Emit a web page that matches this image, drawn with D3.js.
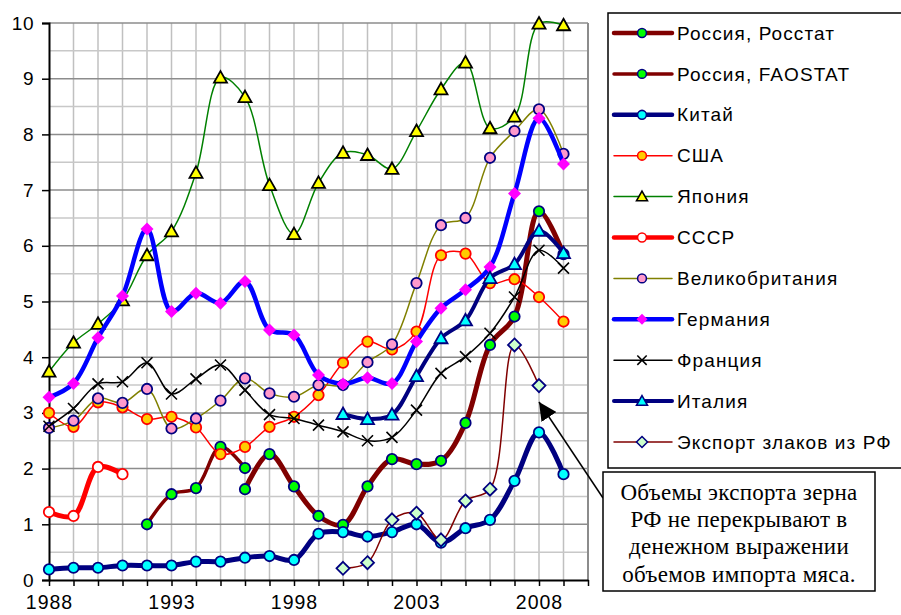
<!DOCTYPE html>
<html>
<head>
<meta charset="utf-8">
<script src="https://cdn.jsdelivr.net/npm/d3@7"></script>
<style>
  body { margin: 0; background: #fff; }
  svg { display: block; }
</style>
</head>
<body>
<script>
const years = [1988, 1989, 1990, 1991, 1992, 1993, 1994, 1995, 1996, 1997, 1998,
  1999, 2000, 2001, 2002, 2003, 2004, 2005, 2006, 2007, 2008, 2009]
const yearLabels = [1988, 1993, 1998, 2003, 2008]
const yTicks = [0, 1, 2, 3, 4, 5, 6, 7, 8, 9, 10]

const rosstat = [null, null, null, null, null, null, null, null, 1.63, 2.26, 1.68,
  1.15, 0.99, 1.68, 2.17, 2.08, 2.14, 2.82, 4.22, 4.73, 6.62, 5.85]
const faostat = [null, null, null, null, 1.0, 1.54, 1.65, 2.39, 2.01, null, null,
  null, null, null, null, null, null, null, null, null, null, null]
const china = [0.19, 0.22, 0.22, 0.26, 0.26, 0.26, 0.33, 0.33, 0.4, 0.43, 0.36,
  0.83, 0.86, 0.78, 0.86, 1.0, 0.67, 0.93, 1.08, 1.78, 2.65, 1.9]
const usa = [3.0, 2.75, 3.19, 3.1, 2.89, 2.93, 2.74, 2.26, 2.39, 2.75, 2.93,
  3.32, 3.9, 4.28, 4.14, 4.46, 5.83, 5.86, 5.33, 5.4, 5.08, 4.64]
const japan = [3.74, 4.26, 4.6, 5.02, 5.83, 6.26, 7.31, 9.02, 8.67, 7.09, 6.21,
  7.13, 7.67, 7.63, 7.38, 8.06, 8.81, 9.29, 8.11, 8.32, 9.99, 9.96]
const ussr = [1.22, 1.15, 2.03, 1.9, null, null, null, null, null, null, null,
  null, null, null, null, null, null, null, null, null, null, null]
const uk = [2.73, 2.86, 3.26, 3.18, 3.43, 2.72, 2.9, 3.22, 3.62, 3.35, 3.29,
  3.5, 3.5, 3.91, 4.23, 5.33, 6.37, 6.5, 7.58, 8.06, 8.45, 7.65]
const germany = [3.28, 3.53, 4.35, 5.1, 6.3, 4.82, 5.15, 4.97, 5.36, 4.49, 4.4,
  3.68, 3.52, 3.63, 3.53, 4.28, 4.88, 5.21, 5.62, 6.94, 8.29, 7.47]
const france = [2.76, 3.08, 3.52, 3.56, 3.9, 3.34, 3.61, 3.86, 3.41, 2.97, 2.9,
  2.78, 2.66, 2.5, 2.56, 3.05, 3.71, 4.01, 4.43, 5.08, 5.92, 5.6]
const italy = [null, null, null, null, null, null, null, null, null, null, null,
  null, 2.98, 2.89, 2.97, 3.66, 4.34, 4.66, 5.42, 5.67, 6.27, 5.87]
const exportRF = [null, null, null, null, null, null, null, null, null, null, null,
  null, 0.21, 0.31, 1.08, 1.2, 0.72, 1.42, 1.63, 4.22, 3.49, null]

const note = ['Объемы экспорта зерна', 'РФ не перекрывают в', 'денежном выражении', 'объемов импорта мяса.']

const series = [
  { name: 'Россия, Росстат', values: rosstat, color: '#800000', width: 5, symbol: 'circle', fill: '#00ff00', stroke: '#000080' },
  { name: 'Россия, FAOSTAT', values: faostat, color: '#800000', width: 3.5, symbol: 'circle', fill: '#00ff00', stroke: '#000080' },
  { name: 'Китай', values: china, color: '#000080', width: 5, symbol: 'circle', fill: '#00ffff', stroke: '#000080' },
  { name: 'США', values: usa, color: '#ff0000', width: 1.5, symbol: 'circle', fill: '#ffcc00', stroke: '#ff0000' },
  { name: 'Япония', values: japan, color: '#008000', width: 1.5, symbol: 'triangle', fill: '#ffff00', stroke: '#000000' },
  { name: 'СССР', values: ussr, color: '#ff0000', width: 5, symbol: 'circle', fill: '#ffffff', stroke: '#ff0000' },
  { name: 'Великобритания', values: uk, color: '#808000', width: 1.5, symbol: 'circle', fill: '#ff99cc', stroke: '#000080' },
  { name: 'Германия', values: germany, color: '#0000ff', width: 4.5, symbol: 'diamond', fill: '#ff00ff', stroke: 'none' },
  { name: 'Франция', values: france, color: '#000000', width: 1.5, symbol: 'x', fill: 'none', stroke: '#000000' },
  { name: 'Италия', values: italy, color: '#000080', width: 4, symbol: 'triangle', fill: '#00ffff', stroke: '#000080' },
  { name: 'Экспорт злаков из РФ', values: exportRF, color: '#800000', width: 1.5, symbol: 'diamond', fill: '#ccffcc', stroke: '#000080' }
]

const width = 901
const height = 615
const sans = 'Arial, "Liberation Sans", sans-serif'
const x = d3.scaleLinear().domain([1988, 2010]).range([49, 588])
const y = d3.scaleLinear().domain([0, 10]).range([580, 23])

const symbolPath = (type) => {
  if (type === 'circle') return d3.symbol(d3.symbolCircle, 85)()
  if (type === 'triangle') return 'M0,-6.5L6.5,5L-6.5,5Z'
  if (type === 'diamond') return 'M0,-6.5L6.5,0L0,6.5L-6.5,0Z'
  return 'M-5.5,-5.5L5.5,5.5M5.5,-5.5L-5.5,5.5'
}

const svg = d3.select('body').append('svg').attr('width', width).attr('height', height)
  .attr('font-family', sans)

// grid
const grid = svg.append('g')
grid.selectAll('line.v')
  .data(d3.range(1989, 2010))
  .join('line')
  .attr('x1', (d) => x(d)).attr('x2', (d) => x(d))
  .attr('y1', y(10)).attr('y2', y(0))
  .attr('stroke', '#c0c0c0').attr('stroke-width', 1.5)
grid.selectAll('line.minor')
  .data(yTicks.slice(0, -1).map((d) => d + 0.5))
  .join('line')
  .attr('x1', x(1988)).attr('x2', x(2010))
  .attr('y1', (d) => y(d)).attr('y2', (d) => y(d))
  .attr('stroke', '#c8c8c8').attr('stroke-width', 1.5)
grid.append('g').selectAll('line')
  .data(yTicks.slice(1))
  .join('line')
  .attr('x1', x(1988)).attr('x2', x(2010))
  .attr('y1', (d) => y(d)).attr('y2', (d) => y(d))
  .attr('stroke', '#8c8c8c').attr('stroke-width', 1.5)
grid.append('line')
  .attr('x1', x(2010)).attr('x2', x(2010)).attr('y1', y(10)).attr('y2', y(0))
  .attr('stroke', '#8c8c8c').attr('stroke-width', 2)

// axes
const yAxis = svg.append('g')
  .attr('transform', `translate(${x(1988)},0)`)
  .call(d3.axisLeft(y).tickValues(yTicks).tickSize(7).tickPadding(8))
yAxis.select('.domain').attr('stroke', '#000').attr('stroke-width', 2)
yAxis.selectAll('.tick line').attr('stroke', '#000').attr('stroke-width', 1.5)
yAxis.selectAll('text').attr('font-size', 19).attr('fill', '#000')
  .attr('font-family', sans).attr('letter-spacing', 0.5)

const xAxis = svg.append('g')
  .attr('transform', `translate(0,${y(0)})`)
  .call(d3.axisBottom(x).tickValues(d3.range(1988, 2011)).tickSize(6).tickSizeOuter(0)
    .tickFormat((d) => (yearLabels.includes(d) ? d : '')).tickPadding(9))
xAxis.select('.domain').attr('stroke', '#000').attr('stroke-width', 2)
xAxis.selectAll('.tick line').attr('stroke', '#000').attr('stroke-width', 1.5)
xAxis.selectAll('text').attr('font-size', 19.5).attr('fill', '#000')
  .attr('font-family', sans).attr('letter-spacing', 1)

// series
const line = d3.line()
  .defined((d) => d.v !== null)
  .x((d) => x(d.year))
  .y((d) => y(d.v))
  .curve(d3.curveCatmullRom)

for (const s of series) {
  const pts = years.map((year, i) => ({ year, v: s.values[i] }))
  const g = svg.append('g')
  g.append('path')
    .attr('d', line(pts))
    .attr('fill', 'none')
    .attr('stroke', s.color)
    .attr('stroke-width', s.width)
    .attr('stroke-linejoin', 'round')
    .attr('stroke-linecap', 'round')
  g.selectAll('path.m')
    .data(pts.filter((d) => d.v !== null))
    .join('path')
    .attr('class', 'm')
    .attr('transform', (d) => `translate(${x(d.year)},${y(d.v)})`)
    .attr('d', symbolPath(s.symbol))
    .attr('fill', s.fill)
    .attr('stroke', s.stroke)
    .attr('stroke-width', s.symbol === 'x' ? 1.6 : 1.8)
}

// legend
const legend = svg.append('g')
legend.append('rect')
  .attr('x', 608).attr('y', 13).attr('width', 310).attr('height', 455)
  .attr('fill', '#fff').attr('stroke', '#000').attr('stroke-width', 1.5)
const item = legend.selectAll('g.item')
  .data(series)
  .join('g')
  .attr('transform', (d, i) => `translate(0,${33 + i * 40.9})`)
item.append('line')
  .attr('x1', 614).attr('x2', 672)
  .attr('stroke', (d) => d.color)
  .attr('stroke-width', (d) => Math.min(d.width, 4.5))
  .attr('stroke-linecap', 'round')
item.append('path')
  .attr('transform', 'translate(642,0) scale(0.85)')
  .attr('d', (d) => symbolPath(d.symbol))
  .attr('fill', (d) => d.fill)
  .attr('stroke', (d) => d.stroke)
  .attr('stroke-width', 1.8)
item.append('text')
  .attr('x', 677).attr('dy', '0.35em')
  .attr('font-size', 19)
  .attr('letter-spacing', 1.1)
  .text((d) => d.name)

// annotation
svg.append('defs').append('marker')
  .attr('id', 'arrow')
  .attr('viewBox', '0 -5 10 10')
  .attr('refX', 10).attr('refY', 0)
  .attr('markerWidth', 18).attr('markerHeight', 18)
  .attr('markerUnits', 'userSpaceOnUse')
  .attr('orient', 'auto')
  .append('path').attr('d', 'M0,-5L10,0L0,5Z').attr('fill', '#000')
svg.append('line')
  .attr('x1', 603).attr('y1', 498).attr('x2', 539).attr('y2', 402)
  .attr('stroke', '#000').attr('stroke-width', 1.5)
  .attr('marker-end', 'url(#arrow)')
svg.append('rect')
  .attr('x', 603).attr('y', 472).attr('width', 272).attr('height', 119)
  .attr('fill', '#fff').attr('stroke', '#000').attr('stroke-width', 1.5)
svg.append('g').selectAll('text')
  .data(note)
  .join('text')
  .attr('x', 739).attr('y', (d, i) => 492 + i * 27.2)
  .attr('dy', '0.35em')
  .attr('text-anchor', 'middle')
  .attr('font-family', '"Times New Roman", "Liberation Serif", serif')
  .attr('font-size', 23)
  .attr('letter-spacing', 0.3)
  .text((d) => d)
</script>
</body>
</html>
